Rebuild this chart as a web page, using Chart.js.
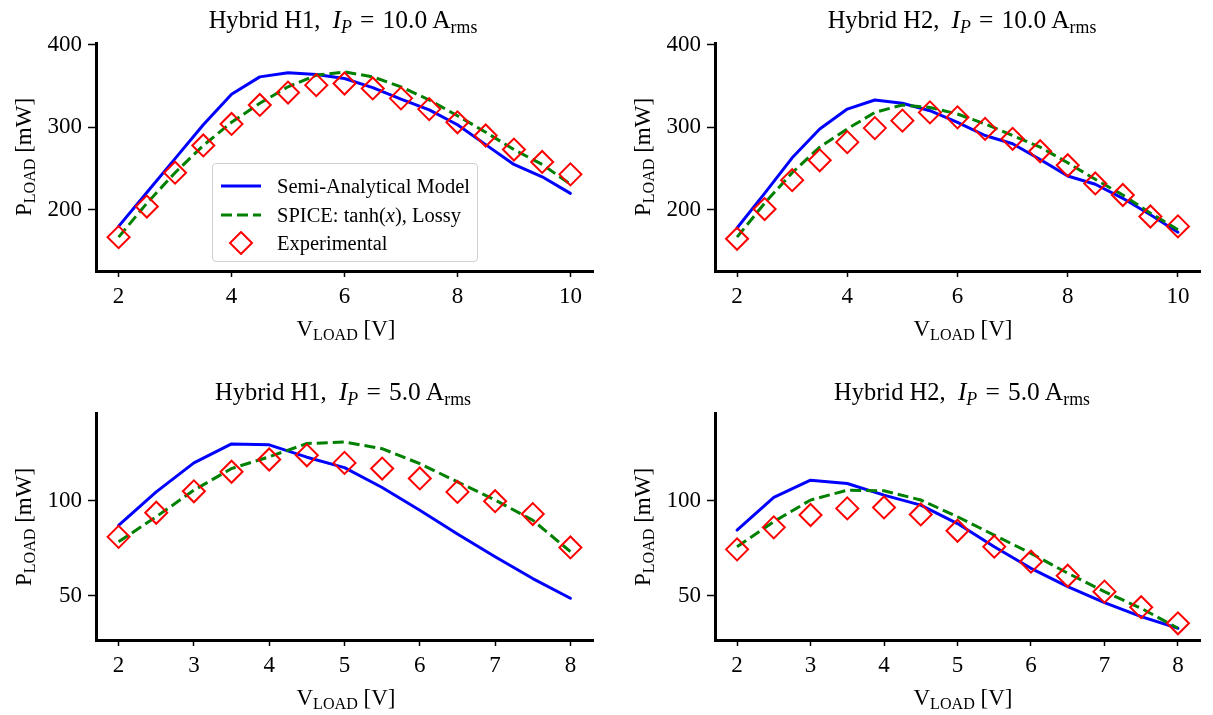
<!DOCTYPE html>
<html>
<head>
<meta charset="utf-8">
<script src="https://cdn.jsdelivr.net/npm/chart.js@4.4.0/dist/chart.umd.min.js"></script>
<style>
body{margin:0;background:#fff;}
#wrap{position:relative;width:1213px;height:715px;overflow:hidden;background:#fff;font-family:"Liberation Serif","Times New Roman",serif;color:#000;}
canvas{position:absolute;}
.t{position:absolute;white-space:nowrap;transform:translate(-50%,-50%);font-size:23px;line-height:1;}
.ti{font-size:24.5px;}
.m{font-size:1.04em;}
.yl{transform:translate(-50%,-50%) rotate(-90deg);}
.t sub{font-size:0.7em;vertical-align:-0.28em;line-height:0;}
.eq{margin:0 0.32em;}
.legend{position:absolute;left:212px;top:163px;width:264px;height:97px;border:1px solid #d0d0d0;border-radius:4px;background:rgba(255,255,255,0.8);font-size:20.5px;}
.row{position:absolute;left:0;height:24px;display:flex;align-items:center;white-space:nowrap;}
.row svg{margin-left:6px;margin-right:14px;}
</style>
</head>
<body>
<div id="wrap">
  <canvas id="c0" width="606" height="357" style="left:0;top:0"></canvas>
  <canvas id="c1" width="607" height="357" style="left:606px;top:0"></canvas>
  <canvas id="c2" width="606" height="358" style="left:0;top:357px"></canvas>
  <canvas id="c3" width="607" height="358" style="left:606px;top:357px"></canvas>

  <div class="t ti" style="left:343px;top:20px">Hybrid H1,&nbsp; <span class="m"><i>I<sub>P</sub></i><span class="eq">=</span>10.0&thinsp;A<sub>rms</sub></span></div>
  <div class="t ti" style="left:962px;top:20px">Hybrid H2,&nbsp; <span class="m"><i>I<sub>P</sub></i><span class="eq">=</span>10.0&thinsp;A<sub>rms</sub></span></div>
  <div class="t ti" style="left:343px;top:392px">Hybrid H1,&nbsp; <span class="m"><i>I<sub>P</sub></i><span class="eq">=</span>5.0&thinsp;A<sub>rms</sub></span></div>
  <div class="t ti" style="left:962px;top:392px">Hybrid H2,&nbsp; <span class="m"><i>I<sub>P</sub></i><span class="eq">=</span>5.0&thinsp;A<sub>rms</sub></span></div>

  <div class="t" style="left:346px;top:328px">V<sub>LOAD</sub> [V]</div>
  <div class="t" style="left:963px;top:328px">V<sub>LOAD</sub> [V]</div>
  <div class="t" style="left:346px;top:697px">V<sub>LOAD</sub> [V]</div>
  <div class="t" style="left:963px;top:697px">V<sub>LOAD</sub> [V]</div>

  <div class="t yl" style="left:23px;top:157px">P<sub>LOAD</sub> [mW]</div>
  <div class="t yl" style="left:642px;top:157px">P<sub>LOAD</sub> [mW]</div>
  <div class="t yl" style="left:23px;top:527px">P<sub>LOAD</sub> [mW]</div>
  <div class="t yl" style="left:642px;top:527px">P<sub>LOAD</sub> [mW]</div>

  <div class="legend">
    <div class="row" style="top:10px"><svg width="44" height="20"><line x1="2" y1="10" x2="42" y2="10" stroke="#0000ff" stroke-width="3"/></svg>Semi-Analytical Model</div>
    <div class="row" style="top:39px"><svg width="44" height="20"><line x1="2" y1="10" x2="42" y2="10" stroke="#008000" stroke-width="3" stroke-dasharray="11,5"/></svg>SPICE: tanh(<i>x</i>), Lossy</div>
    <div class="row" style="top:67px"><svg width="44" height="24"><polygon points="22,1 33,12 22,23 11,12" fill="none" stroke="#ff0000" stroke-width="2"/></svg>Experimental</div>
  </div>
</div>
<script>
// ---- data ----
const vload10 = [2, 2.5, 3, 3.5, 4, 4.5, 5, 5.5, 6, 6.5, 7, 7.5, 8, 8.5, 9, 9.5, 10];
const vload5 = [2, 2.5, 3, 3.5, 4, 4.5, 5, 5.5, 6, 6.5, 7, 7.5, 8];

const h1_10_model = [180, 221, 262, 303, 340, 361, 366, 364, 359, 348, 334, 321, 303, 279, 255, 240, 220];
const h1_10_spice = [167, 208, 245, 278, 306, 329, 349, 363, 367, 361, 349, 333, 314, 294, 273, 255, 231];
const h1_10_exp   = [167, 204, 245, 278, 304, 327, 342, 351, 353, 347, 335, 322, 306, 290, 273, 258, 243];

const h2_10_model = [178, 220, 263, 298, 322, 333, 329, 320, 306, 290, 280, 261, 241, 231, 214, 194, 173];
const h2_10_spice = [167, 208, 245, 276, 298, 318, 327, 324, 316, 304, 290, 276, 257, 237, 218, 196, 176];
const h2_10_exp   = [165, 201, 236, 260, 282, 299, 308, 318, 312, 298, 286, 271, 254, 232, 218, 192, 180];

const h1_5_model = [87, 104.7, 120, 130, 129.5, 123, 117.5, 107, 95, 82.5, 70.5, 59, 48.6];
const h1_5_spice = [78.4, 91.6, 105.6, 117, 123.2, 130.2, 131, 127.5, 119.6, 110, 100.4, 89.8, 73.2];
const h1_5_exp   = [81, 93.7, 105, 115.3, 121.8, 124, 120, 117, 111.8, 104.7, 99.8, 93, 75.4];

const h2_5_model = [84.6, 101.8, 110.9, 109.1, 103, 97.7, 88, 75.8, 64.4, 54.7, 46.3, 38.9, 32.8];
const h2_5_spice = [75.8, 89, 100.4, 105.6, 105.3, 100.4, 91.6, 81.9, 72.3, 61.8, 52.1, 43.3, 32.8];
const h2_5_exp   = [74.4, 86, 92.5, 96, 96.5, 92.8, 84.2, 75.8, 67.9, 60.5, 52.1, 43.9, 35.4];

const xTicks10 = [2, 4, 6, 8, 10];
const xTicks5 = [2, 3, 4, 5, 6, 7, 8];
const yTicks10 = [200, 300, 400];
const yTicks5 = [50, 100];

// ---- drawing ----
const FONT = {family: "'Liberation Serif','Times New Roman',serif", size: 23};

function pts(xs, ys) { return xs.map((x, i) => ({x: x, y: ys[i]})); }

function makeChart(id, xs, model, spice, exp, xr, yr, xt, yt, area) {
  const canvas = document.getElementById(id);
  const W = canvas.width, H = canvas.height;
  new Chart(canvas, {
    type: 'line',
    data: {
      datasets: [
        {label: 'Semi-Analytical Model', data: pts(xs, model), borderColor: '#0000ff', borderWidth: 3,
         pointRadius: 0, tension: 0, order: 3, borderJoinStyle: 'round', borderCapStyle: 'round'},
        {label: 'SPICE: tanh(x), Lossy', data: pts(xs, spice), borderColor: '#008000', borderWidth: 3,
         borderDash: [11, 5], pointRadius: 0, tension: 0, order: 2},
        {label: 'Experimental', data: pts(xs, exp), showLine: false, pointStyle: 'rectRot', pointRadius: 11,
         pointBorderColor: '#ff0000', pointBackgroundColor: 'rgba(0,0,0,0)', pointBorderWidth: 2,
         borderColor: '#ff0000', order: 1}
      ]
    },
    options: {
      responsive: false, animation: false, devicePixelRatio: 1,
      layout: {padding: {left: 0, top: area.t, right: W - area.r, bottom: 0}},
      plugins: {legend: {display: false}, tooltip: {enabled: false}, title: {display: false}},
      scales: {
        x: {
          type: 'linear', min: xr[0], max: xr[1],
          afterBuildTicks: s => { s.ticks = xt.map(v => ({value: v})); },
          afterFit: s => { s.height = H - area.b; },
          border: {display: true, color: '#000', width: 3},
          grid: {display: true, drawOnChartArea: false, drawTicks: true, tickLength: 6, tickColor: '#000', tickWidth: 1.5},
          ticks: {color: '#000', font: FONT, padding: 6, maxRotation: 0, autoSkip: false, callback: v => String(v)}
        },
        y: {
          type: 'linear', min: yr[0], max: yr[1],
          afterBuildTicks: s => { s.ticks = yt.map(v => ({value: v})); },
          afterFit: s => { s.width = area.l; },
          border: {display: true, color: '#000', width: 3},
          grid: {display: true, drawOnChartArea: false, drawTicks: true, tickLength: 8, tickColor: '#000', tickWidth: 1.5},
          ticks: {color: '#000', font: FONT, padding: 6, autoSkip: false, callback: v => String(v)}
        }
      }
    }
  });
}

makeChart('c0', vload10, h1_10_model, h1_10_spice, h1_10_exp, [1.6, 10.4], [126, 402], xTicks10, yTicks10, {l: 96, t: 43, r: 596, b: 271});
makeChart('c1', vload10, h2_10_model, h2_10_spice, h2_10_exp, [1.6, 10.4], [126, 402], xTicks10, yTicks10, {l: 109, t: 43, r: 605, b: 271});
makeChart('c2', vload5, h1_5_model, h1_5_spice, h1_5_exp, [1.7, 8.3], [26.6, 146.3], xTicks5, yTicks5, {l: 96, t: 56, r: 594, b: 283});
makeChart('c3', vload5, h2_5_model, h2_5_spice, h2_5_exp, [1.7, 8.3], [26.6, 146.3], xTicks5, yTicks5, {l: 109, t: 56, r: 606, b: 283});
</script>
</body>
</html>
